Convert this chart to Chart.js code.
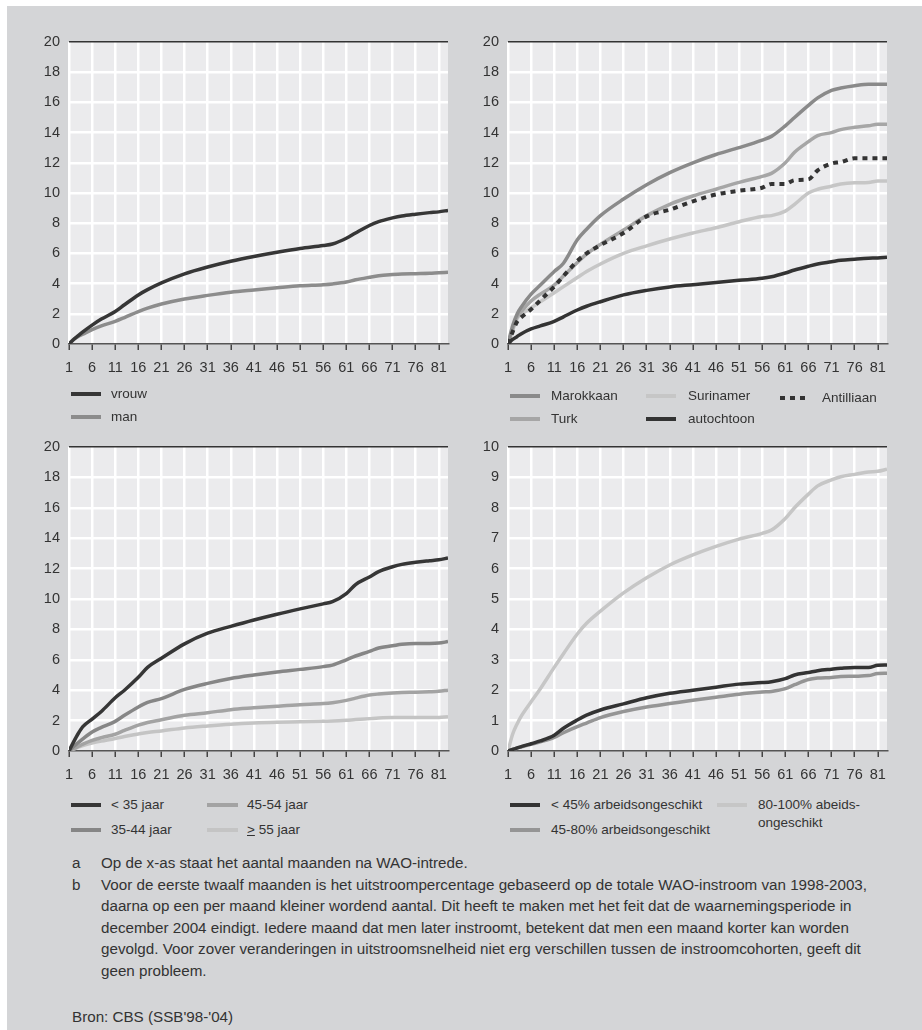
<!DOCTYPE html>
<html>
<head>
<meta charset="utf-8">
<script src="https://cdn.jsdelivr.net/npm/chart.js@4.4.0/dist/chart.umd.min.js"></script>
<style>
  body { margin: 0; width: 922px; height: 1030px; position: relative; overflow: hidden; background: #fff;
         font-family: "Liberation Sans", Arial, sans-serif; color: #333; }
  #bg { position: absolute; left: 7px; top: 6px; right: 0; bottom: 0; background: #d4d5d7; }
  canvas { position: absolute; }
  .lg { position: absolute; font-size: 13.5px; line-height: 18px; white-space: nowrap; }
  .sw { position: absolute; height: 4px; }
  .note { position: absolute; font-size: 15.2px; line-height: 21.5px; white-space: nowrap; }
</style>
</head>
<body>
<div id="bg"></div>
<canvas id="c1" width="461" height="385" style="left:0;top:0"></canvas>
<canvas id="c2" width="461" height="385" style="left:461px;top:0"></canvas>
<canvas id="c3" width="461" height="385" style="left:0;top:400px"></canvas>
<canvas id="c4" width="461" height="385" style="left:461px;top:400px"></canvas>
<div id="legends"></div>

<div class="note" style="left:72px;top:852px">a</div>
<div class="note" style="left:101px;top:852px">Op de x-as staat het aantal maanden na WAO-intrede.</div>
<div class="note" style="left:72px;top:873.5px">b</div>
<div class="note" style="left:101px;top:873.5px">Voor de eerste twaalf maanden is het uitstroompercentage gebaseerd op de totale WAO-instroom van 1998-2003,<br>daarna op een per maand kleiner wordend aantal. Dit heeft te maken met het feit dat de waarnemingsperiode in<br>december 2004 eindigt. Iedere maand dat men later instroomt, betekent dat men een maand korter kan worden<br>gevolgd. Voor zover veranderingen in uitstroomsnelheid niet erg verschillen tussen de instroomcohorten, geeft dit<br>geen probleem.</div>
<div class="note" style="left:72px;top:1006px">Bron: CBS (SSB'98-'04)</div>

<script>
// months after WAO entry at which values were read
const months = [1, 2, 3, 4, 6, 8, 11, 13, 16, 18, 21, 26, 31, 36, 41, 46, 51, 56, 58, 61, 63, 66, 68, 71, 73, 76, 79, 81, 83];
const tickMonths = [1, 6, 11, 16, 21, 26, 31, 36, 41, 46, 51, 56, 61, 66, 71, 76, 81];

// panel 1: geslacht
const vrouw = [0, 0.3, 0.55, 0.8, 1.25, 1.65, 2.15, 2.6, 3.25, 3.6, 4.05, 4.65, 5.1, 5.48, 5.8, 6.08, 6.33, 6.52, 6.62, 7.0, 7.35, 7.85, 8.1, 8.35, 8.48, 8.6, 8.7, 8.75, 8.85];
const man   = [0, 0.3, 0.5, 0.65, 0.95, 1.2, 1.5, 1.75, 2.15, 2.38, 2.65, 2.98, 3.22, 3.43, 3.58, 3.72, 3.85, 3.93, 3.98, 4.1, 4.25, 4.42, 4.52, 4.6, 4.64, 4.66, 4.68, 4.72, 4.75];

// panel 2: herkomst
const marokkaan  = [0, 1.2, 2.0, 2.5, 3.3, 3.9, 4.8, 5.35, 6.9, 7.6, 8.5, 9.6, 10.55, 11.35, 12.0, 12.55, 13.0, 13.5, 13.75, 14.45, 15.0, 15.8, 16.3, 16.8, 16.95, 17.1, 17.2, 17.2, 17.2];
const turk       = [0, 1.0, 1.8, 2.2, 2.85, 3.3, 3.9, 4.5, 5.4, 5.95, 6.6, 7.55, 8.5, 9.25, 9.8, 10.25, 10.7, 11.1, 11.3, 12.0, 12.7, 13.4, 13.8, 14.0, 14.2, 14.35, 14.45, 14.55, 14.55];
const antilliaan = [0, 0.8, 1.5, 1.8, 2.3, 2.9, 3.8, 4.5, 5.5, 6.0, 6.55, 7.35, 8.45, 8.9, 9.45, 9.9, 10.15, 10.35, 10.6, 10.6, 10.85, 10.9, 11.5, 11.95, 12.05, 12.3, 12.3, 12.3, 12.3];
const surinamer  = [0, 0.9, 1.7, 2.0, 2.4, 2.8, 3.4, 3.8, 4.4, 4.8, 5.3, 6.0, 6.5, 6.95, 7.35, 7.7, 8.1, 8.45, 8.5, 8.8, 9.25, 10.0, 10.25, 10.45, 10.6, 10.68, 10.7, 10.8, 10.8];
const autochtoon = [0, 0.3, 0.5, 0.7, 1.0, 1.2, 1.5, 1.8, 2.25, 2.5, 2.8, 3.25, 3.55, 3.78, 3.93, 4.08, 4.22, 4.35, 4.45, 4.7, 4.9, 5.15, 5.3, 5.45, 5.55, 5.62, 5.68, 5.7, 5.75];

// panel 3: leeftijd
const jong    = [0, 0.6, 1.15, 1.6, 2.1, 2.6, 3.5, 4.0, 4.85, 5.5, 6.1, 7.05, 7.75, 8.2, 8.62, 9.0, 9.35, 9.68, 9.82, 10.35, 10.95, 11.45, 11.8, 12.12, 12.28, 12.42, 12.52, 12.58, 12.7];
const lft3544 = [0, 0.3, 0.55, 0.8, 1.25, 1.55, 1.95, 2.35, 2.9, 3.2, 3.45, 4.05, 4.45, 4.77, 5.0, 5.2, 5.37, 5.55, 5.65, 6.0, 6.25, 6.55, 6.78, 6.92, 7.02, 7.08, 7.08, 7.1, 7.2];
const lft4554 = [0, 0.15, 0.3, 0.45, 0.7, 0.88, 1.1, 1.35, 1.7, 1.88, 2.05, 2.35, 2.52, 2.72, 2.84, 2.95, 3.05, 3.12, 3.18, 3.33, 3.48, 3.68, 3.75, 3.82, 3.85, 3.87, 3.9, 3.93, 4.0];
const oud     = [0, 0.12, 0.25, 0.35, 0.53, 0.65, 0.82, 0.95, 1.12, 1.22, 1.32, 1.52, 1.65, 1.76, 1.84, 1.89, 1.92, 1.96, 1.97, 2.02, 2.07, 2.13, 2.17, 2.2, 2.2, 2.2, 2.2, 2.2, 2.25];

// panel 4: mate van arbeidsongeschiktheid
const ao45   = [0, 0.05, 0.1, 0.15, 0.24, 0.33, 0.52, 0.75, 1.02, 1.18, 1.35, 1.55, 1.75, 1.9, 2.0, 2.1, 2.2, 2.25, 2.28, 2.38, 2.5, 2.58, 2.64, 2.69, 2.72, 2.75, 2.75, 2.82, 2.83];
const ao4580 = [0, 0.05, 0.1, 0.14, 0.22, 0.3, 0.45, 0.6, 0.8, 0.92, 1.1, 1.3, 1.45, 1.56, 1.67, 1.77, 1.87, 1.94, 1.96, 2.05, 2.18, 2.35, 2.4, 2.42, 2.45, 2.46, 2.48, 2.55, 2.56];
const ao80   = [0, 0.55, 0.9, 1.18, 1.62, 2.05, 2.75, 3.2, 3.85, 4.2, 4.6, 5.2, 5.7, 6.12, 6.45, 6.73, 6.97, 7.16, 7.27, 7.65, 8.0, 8.45, 8.72, 8.92, 9.02, 9.1, 9.18, 9.2, 9.27];

const FONT = '"Liberation Sans", Arial, sans-serif';

const plotBg = {
  id: 'plotBg',
  beforeDraw(chart) {
    const { ctx, chartArea: a } = chart;
    ctx.save();
    ctx.fillStyle = '#ebebed';
    ctx.fillRect(a.left, a.top, a.right - a.left, a.bottom - a.top);
    ctx.restore();
  }
};

function drawPanel(id, box, yMax, yStep, series) {
  new Chart(document.getElementById(id), {
    type: 'line',
    data: {
      datasets: series.map(s => ({
        label: s.label,
        data: months.map((m, i) => ({ x: m, y: s.values[i] })),
        borderColor: s.color,
        borderWidth: s.dash ? 4 : 3.5,
        borderDash: s.dash || [],
        borderCapStyle: 'butt',
        pointRadius: 0,
        cubicInterpolationMode: 'monotone',
        fill: false
      }))
    },
    options: {
      responsive: false,
      animation: false,
      layout: { padding: { top: box.plotT - box.top, right: box.left + 461 - box.plotR, left: 0, bottom: 0 } },
      plugins: { legend: { display: false }, tooltip: { enabled: false } },
      scales: {
        x: {
          type: 'linear', min: 1, max: 83,
          afterBuildTicks: sc => { sc.ticks = tickMonths.map(v => ({ value: v })); },
          afterFit: sc => { sc.height = box.top + 385 - box.plotB; },
          grid: { color: '#fff', lineWidth: 2.5, tickColor: '#444', tickLength: 6, tickWidth: 1.5 },
          border: { color: '#555', width: 1.5 },
          ticks: { color: '#333', font: { family: FONT, size: 14.5 }, padding: 9, maxRotation: 0, autoSkip: false }
        },
        y: {
          min: 0, max: yMax,
          afterFit: sc => { sc.width = box.plotL - box.left; },
          ticks: { stepSize: yStep, color: '#333', font: { family: FONT, size: 14.5 }, padding: 9 },
          grid: {
            drawTicks: false,
            color: c => c.tick.value === yMax ? '#333' : (c.tick.value === 0 ? 'rgba(0,0,0,0)' : '#fff'),
            lineWidth: c => c.tick.value === yMax ? 1.5 : 2.5
          },
          border: { display: false }
        }
      }
    },
    plugins: [plotBg]
  });
}

drawPanel('c1', { left: 0, top: 0, plotL: 69, plotR: 448, plotT: 42, plotB: 344 }, 20, 2, [
  { label: 'vrouw', values: vrouw, color: '#363636' },
  { label: 'man', values: man, color: '#8c8c8c' }
]);
drawPanel('c2', { left: 461, top: 0, plotL: 508, plotR: 887, plotT: 42, plotB: 344 }, 20, 2, [
  { label: 'Antilliaan', values: antilliaan, color: '#333', dash: [5, 5] },
  { label: 'autochtoon', values: autochtoon, color: '#333' },
  { label: 'Marokkaan', values: marokkaan, color: '#8a8a8a' },
  { label: 'Turk', values: turk, color: '#a6a6a6' },
  { label: 'Surinamer', values: surinamer, color: '#c6c6c6' }
]);
drawPanel('c3', { left: 0, top: 400, plotL: 69, plotR: 448, plotT: 447, plotB: 751 }, 20, 2, [
  { label: '< 35 jaar', values: jong, color: '#363636' },
  { label: '35-44 jaar', values: lft3544, color: '#868686' },
  { label: '45-54 jaar', values: lft4554, color: '#a3a3a3' },
  { label: '≥ 55 jaar', values: oud, color: '#c4c4c4' }
]);
drawPanel('c4', { left: 461, top: 400, plotL: 508, plotR: 887, plotT: 447, plotB: 751 }, 10, 1, [
  { label: '< 45% arbeidsongeschikt', values: ao45, color: '#333' },
  { label: '45-80% arbeidsongeschikt', values: ao4580, color: '#959595' },
  { label: '80-100% abeids-ongeschikt', values: ao80, color: '#c6c6c6' }
]);

// legend entries: text, colour, swatch x1, x2, row centre y, text x
const legendItems = [
  ['vrouw', '#363636', 71, 101, 394, 111],
  ['man', '#8c8c8c', 71, 101, 417, 111],
  ['Marokkaan', '#8a8a8a', 510, 540, 396, 551],
  ['Turk', '#a6a6a6', 510, 540, 419, 551],
  ['Surinamer', '#c6c6c6', 646, 676, 396, 688],
  ['autochtoon', '#333', 646, 676, 419, 688],
  ['Antilliaan', 'dash', 780, 807, 398, 822],
  ['&lt; 35 jaar', '#363636', 71, 101, 805, 111],
  ['35-44 jaar', '#868686', 71, 101, 830, 111],
  ['45-54 jaar', '#a3a3a3', 207, 238, 805, 247],
  ['<u>&gt;</u> 55 jaar', '#c4c4c4', 207, 238, 830, 247],
  ['&lt; 45% arbeidsongeschikt', '#333', 510, 540, 805, 551],
  ['45-80% arbeidsongeschikt', '#959595', 510, 540, 830, 551],
  ['80-100% abeids-<br>ongeschikt', '#c6c6c6', 717, 747, 805, 758]
];
const lg = document.getElementById('legends');
legendItems.forEach(([txt, col, x1, x2, y, tx]) => {
  const sw = document.createElement('div');
  sw.className = 'sw';
  sw.style.left = x1 + 'px';
  sw.style.top = (y - 2) + 'px';
  sw.style.width = (x2 - x1) + 'px';
  sw.style.background = col === 'dash'
    ? 'repeating-linear-gradient(90deg, #333 0 5px, transparent 5px 10px)'
    : col;
  lg.appendChild(sw);
  const t = document.createElement('div');
  t.className = 'lg';
  t.style.left = tx + 'px';
  t.style.top = (y - 9) + 'px';
  t.innerHTML = txt;
  lg.appendChild(t);
});
</script>
</body>
</html>
